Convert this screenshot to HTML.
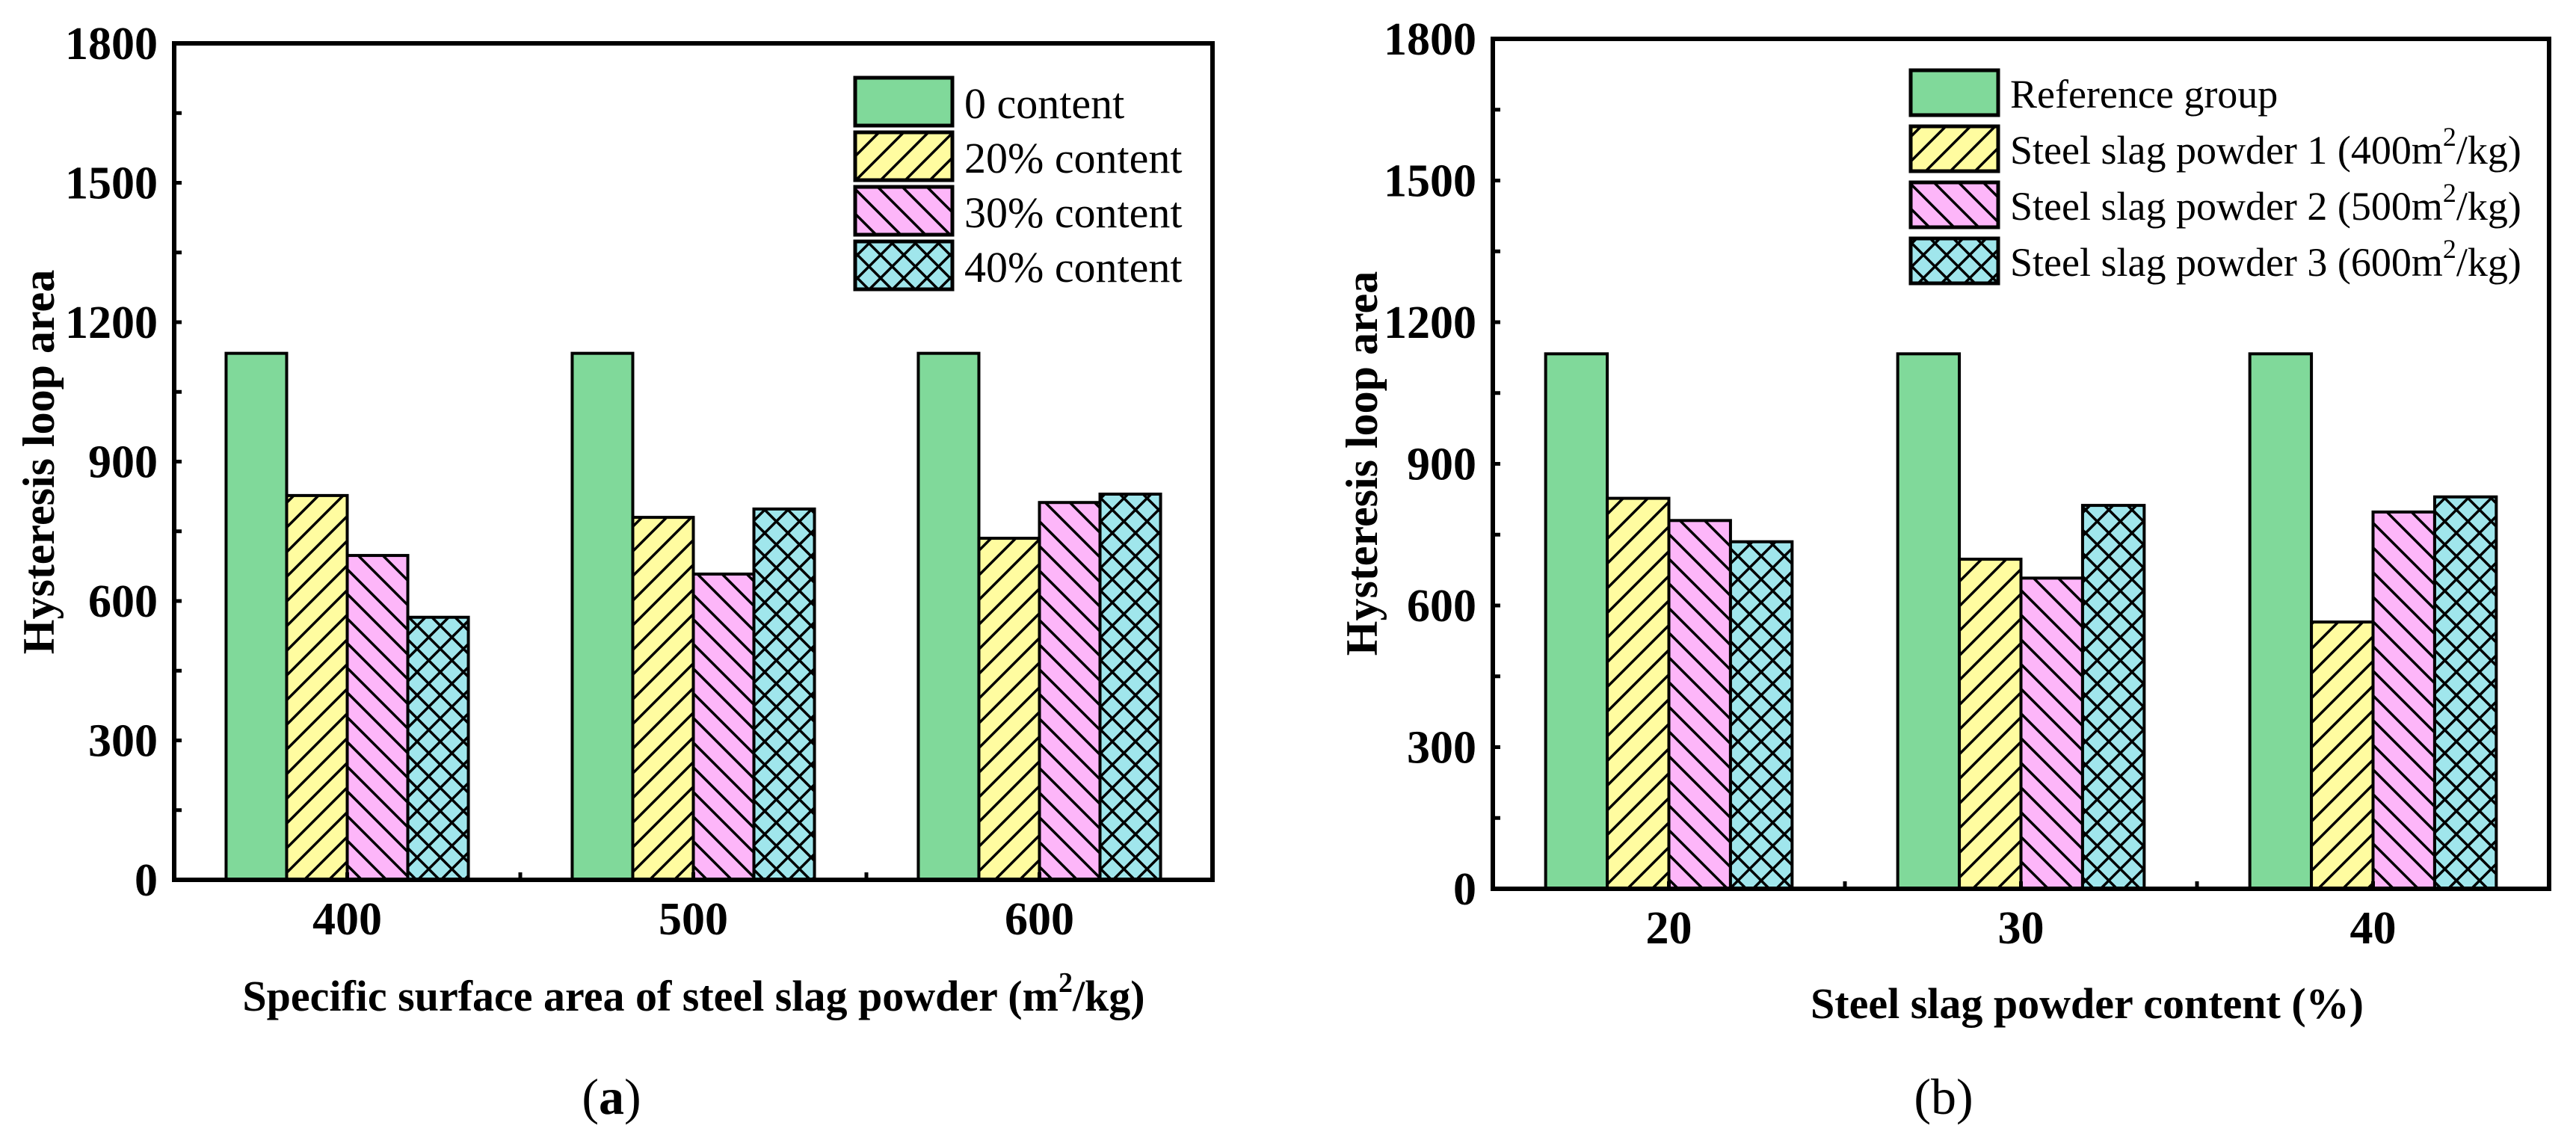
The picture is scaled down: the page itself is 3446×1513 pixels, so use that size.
<!DOCTYPE html>
<html><head><meta charset="utf-8"><style>
html,body{margin:0;padding:0;background:#fff;}
svg{display:block;font-family:"Liberation Serif",serif;}
</style></head><body>
<svg id="chart" width="3446" height="1513" viewBox="0 0 3446 1513" xmlns="http://www.w3.org/2000/svg">
<defs>
<pattern id="pY" patternUnits="userSpaceOnUse" width="33" height="33"><rect width="33" height="33" fill="#FFFCA0"/><path d="M-5,38 L38,-5 M-5,5 L5,-5 M28,38 L38,28" stroke="#000" stroke-width="3.5"/></pattern>
<pattern id="pP" patternUnits="userSpaceOnUse" width="33" height="33"><rect width="33" height="33" fill="#FDB6F9"/><path d="M-5,-5 L38,38 M-5,28 L5,38 M28,-5 L38,5" stroke="#000" stroke-width="3.5"/></pattern>
<pattern id="pC" patternUnits="userSpaceOnUse" width="31" height="31"><rect width="31" height="31" fill="#A0E6EC"/><path d="M-5,36 L36,-5 M-5,-5 L36,36" stroke="#000" stroke-width="3.5"/></pattern>
</defs>
<g id="gA"></g>
<g id="gB"></g>
</svg>
<script>
const catsA = ["400","500","600"];
const catsB = ["20","30","40"];
// panel b series (per powder), indexed by content 20/30/40
const refVals = [1133,1133,1133];
const s400 = [827,698,565];
const s500 = [780,658,798];
const s600 = [735,812,830];
// panel a series (per content), indexed by surface area 400/500/600
const c0 = [1133,1133,1133];
const c20 = [827,780,735];
const c30 = [698,658,812];
const c40 = [565,798,830];
const yTicks = [0,300,600,900,1200,1500,1800];
const legendA = ["0 content","20% content","30% content","40% content"];
const legendB = ["Reference group","Steel slag powder 1 (400","Steel slag powder 2 (500","Steel slag powder 3 (600"];

const NS="http://www.w3.org/2000/svg";
const fills=["#80D99A","url(#pY)","url(#pP)","url(#pC)"];
function mk(parent,tag,attrs,text){const e=document.createElementNS(NS,tag);for(const k in attrs)e.setAttribute(k,attrs[k]);if(text!==undefined)e.textContent=text;parent.appendChild(e);return e;}

function drawPanel(g,cfg,cats,series){
  const L=cfg.L,R=cfg.R,T=cfg.T,B=cfg.B;
  const step=(R-L)/cats.length;
  const xs=i=>L+step*(i+0.5);
  const ys=v=>B-(v/1800)*(B-T);
  const bw=step*0.175;
  series.forEach((ser,si)=>{
    ser.forEach((v,ci)=>{
      const x=xs(ci)-2*bw+si*bw;
      const r=mk(g,"rect",{x:x,y:ys(v),width:bw,height:B-ys(v),fill:fills[si],stroke:"#000","stroke-width":4});
      
      
    });
  });
  for(let v=0;v<=1800;v+=150){
    const t=mk(g,"line",{x1:L,x2:L+10,y1:ys(v),y2:ys(v),stroke:"#000","stroke-width":5});
    
    
  }
  yTicks.forEach(v=>{
    const t=mk(g,"text",{x:L-22,y:ys(v)+21,"text-anchor":"end","font-size":62,"font-weight":"bold"},String(v));
    
    
  });
  for(let i=0;i<=cats.length*2;i++){
    const x=L+step*i/2;
    const t=mk(g,"line",{x1:x,x2:x,y1:B,y2:B-10,stroke:"#000","stroke-width":5});
    
    
  }
  cats.forEach((c,i)=>{
    const t=mk(g,"text",{x:xs(i),y:cfg.xlabY,"text-anchor":"middle","font-size":62,"font-weight":"bold"},c);
    
    
  });
  const fr=mk(g,"rect",{x:L,y:T,width:R-L,height:B-T,fill:"none",stroke:"#000","stroke-width":6});
  
  
  cfg.legend.forEach((lab,i)=>{
    const y=cfg.legY+i*cfg.legPitch;
    const r=mk(g,"rect",{x:cfg.legX,y:y,width:cfg.legW,height:cfg.legH,fill:fills[i],stroke:"#000","stroke-width":5});
    
    
    const t=mk(g,"text",{x:cfg.legX+cfg.legW+16,y:y+cfg.legH-10,"font-size":cfg.legFont},lab);
    
    
    if(cfg.id==="b"&&i>0){
      t.textContent=lab+"m";
      mk(t,"tspan",{"font-size":36,dy:-24},"2");
      mk(t,"tspan",{dy:24},"/kg)");
    }
  });
}

drawPanel(document.getElementById("gA"),{id:"a",L:233,R:1622,T:58,B:1177,xlabY:1250,legFont:58,
  legend:legendA,legX:1144,legY:104,legW:130,legH:64,legPitch:73},catsA,[c0,c20,c30,c40]);
drawPanel(document.getElementById("gB"),{id:"b",L:1997,R:3410,T:52,B:1189,xlabY:1262,legFont:54,
  legend:legendB,legX:2556,legY:94,legW:117,legH:60,legPitch:75},catsB,[refVals,s400,s500,s600]);
</script>
<script>
(function(){
const svg=document.getElementById("chart");
const NS="http://www.w3.org/2000/svg";
function mk(tag,attrs,text){const e=document.createElementNS(NS,tag);for(const k in attrs)e.setAttribute(k,attrs[k]);if(text!==undefined)e.textContent=text;svg.appendChild(e);return e;}
function ts(parent,attrs,text){const e=document.createElementNS(NS,"tspan");for(const k in attrs)e.setAttribute(k,attrs[k]);e.textContent=text;parent.appendChild(e);return e;}
let t;
t=mk("text",{x:0,y:0,transform:"translate(72,618) rotate(-90)","text-anchor":"middle","font-size":60,"font-weight":"bold"},"Hysteresis loop area");


t=mk("text",{x:0,y:0,transform:"translate(1842,620) rotate(-90)","text-anchor":"middle","font-size":60,"font-weight":"bold"},"Hysteresis loop area");


t=mk("text",{x:928,y:1352,"text-anchor":"middle","font-size":58,"font-weight":"bold"},"Specific surface area of steel slag powder (m");
ts(t,{"font-size":38,dy:-25},"2");
ts(t,{dy:25},"/kg)");


t=mk("text",{x:2792,y:1362,"text-anchor":"middle","font-size":58,"font-weight":"bold"},"Steel slag powder content (%)");


t=mk("text",{x:818,y:1490,"text-anchor":"middle","font-size":68},"(");
ts(t,{"font-weight":"bold"},"a");
ts(t,{},")");


t=mk("text",{x:2600,y:1490,"text-anchor":"middle","font-size":68},"(b)");


})();
</script>
</body></html>
